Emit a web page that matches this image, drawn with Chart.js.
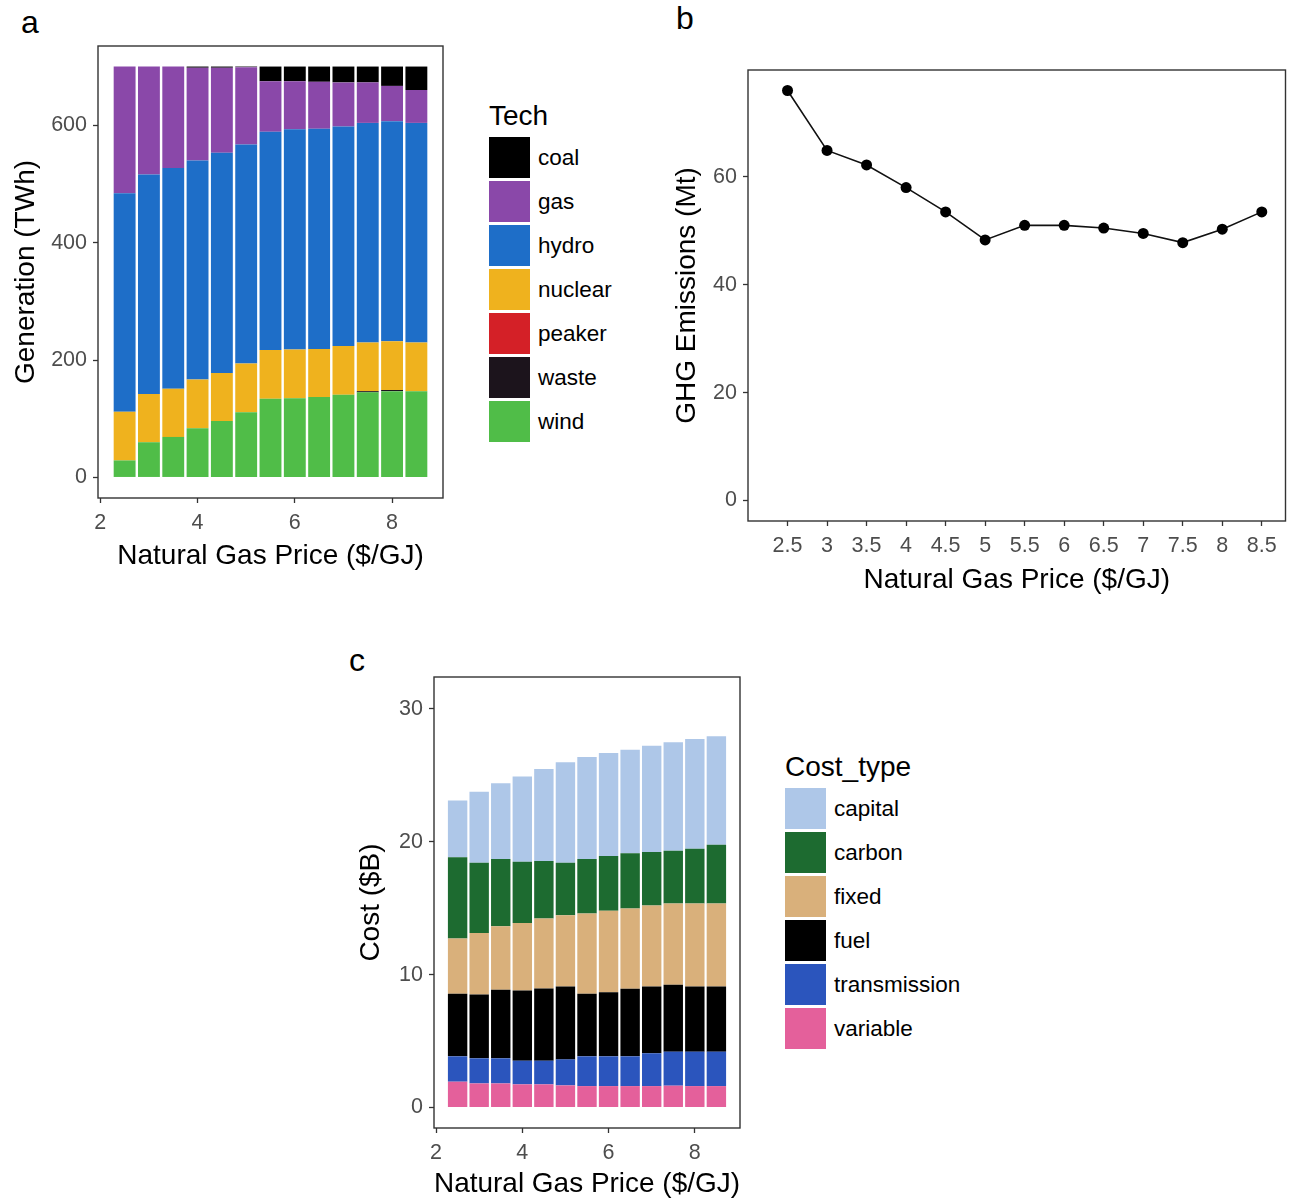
<!DOCTYPE html>
<html>
<head>
<meta charset="utf-8">
<script src="https://cdn.jsdelivr.net/npm/chart.js@4.4.1/dist/chart.umd.min.js"></script>
<style>
    html, body { margin: 0; padding: 0; background: #fff; }
    body { position: relative; width: 1291px; height: 1201px; overflow: hidden; font-family: 'Liberation Sans', Arial, sans-serif; color: #000; }
    .panel { position: absolute; }
    .tag { position: absolute; font-size: 32px; line-height: 32px; }
    .legend-title { position: absolute; font-size: 28px; line-height: 28px; white-space: nowrap; }
    .legend-key { position: absolute; width: 41px; height: 41px; }
    .legend-label { position: absolute; font-size: 22.5px; line-height: 41px; height: 41px; white-space: nowrap; }
</style>
</head>
<body>
<div class="tag" style="left:21px;top:6px">a</div>
<div class="tag" style="left:676px;top:2px">b</div>
<div class="tag" style="left:349px;top:644px">c</div>

<canvas id="chartGen" class="panel" style="left:0;top:0" width="460" height="600"></canvas>
<canvas id="chartGhg" class="panel" style="left:640px;top:0" width="651" height="620"></canvas>
<canvas id="chartCost" class="panel" style="left:330px;top:630px" width="420" height="575"></canvas>

<div id="legendGen"></div>
<div id="legendCost"></div>

<script>
// Natural gas price scenarios ($/GJ)
const prices = [2.5, 3, 3.5, 4, 4.5, 5, 5.5, 6, 6.5, 7, 7.5, 8, 8.5];

// a - generation by technology (TWh)
const techNames = ['coal', 'gas', 'hydro', 'nuclear', 'peaker', 'waste', 'wind'];
const techColors = ['#000000', '#8a48a9', '#1e6ec8', '#efb21e', '#d42027', '#1c141c', '#50bd48'];
const coalGen    = [0, 0, 0, 2, 2, 1, 25, 25, 26, 27, 27, 33, 40];
const gasGen     = [216, 184, 173, 158, 145, 132, 86, 82, 80, 75, 69, 60, 56];
const hydroGen   = [372, 374, 376, 373, 375, 373, 372, 375, 375, 374, 374, 375, 374];
const nuclearGen = [83, 82, 82, 83, 82, 83, 83, 83, 82, 83, 83, 83, 83];
const peakerGen  = [0, 0, 0, 0, 0, 0, 0, 0, 0, 0, 0, 0, 0];
const wasteGen   = [0, 0, 0, 0, 0, 0, 0, 0, 0, 0, 2, 2, 0];
const windGen    = [29, 60, 69, 84, 96, 111, 134, 135, 137, 141, 145, 147, 147];
const genTicksX = [2, 4, 6, 8];
const genTicksY = [0, 200, 400, 600];

// b - GHG emissions (Mt)
const ghg = [76.0, 64.9, 62.2, 58.0, 53.5, 48.3, 51.0, 51.0, 50.5, 49.5, 47.8, 50.3, 53.5];
const ghgTicksX = prices;
const ghgTicksY = [0, 20, 40, 60];

// c - system cost by type ($B)
const costNames = ['capital', 'carbon', 'fixed', 'fuel', 'transmission', 'variable'];
const costColors = ['#aec7e8', '#1d6b30', '#d9b07b', '#000000', '#2b55bd', '#e4609b'];
const capitalCost      = [4.27, 5.34, 5.71, 6.42, 6.92, 7.56, 7.68, 7.75, 7.80, 8.00, 8.16, 8.26, 8.16];
const carbonCost       = [6.12, 5.28, 5.06, 4.61, 4.33, 3.95, 4.10, 4.13, 4.15, 4.03, 3.98, 4.13, 4.43];
const fixedCost        = [4.15, 4.63, 4.78, 5.08, 5.26, 5.36, 6.04, 6.12, 6.04, 6.09, 6.11, 6.24, 6.24];
const fuelCost         = [4.71, 4.81, 5.16, 5.29, 5.44, 5.49, 4.71, 4.83, 5.09, 5.03, 5.04, 4.91, 4.91];
const transmissionCost = [1.91, 1.89, 1.89, 1.78, 1.78, 1.96, 2.24, 2.24, 2.24, 2.47, 2.56, 2.59, 2.59];
const variableCost     = [1.94, 1.81, 1.81, 1.74, 1.74, 1.66, 1.61, 1.61, 1.61, 1.61, 1.64, 1.61, 1.61];
const costTicksX = [2, 4, 6, 8];
const costTicksY = [0, 10, 20, 30];

const FONT = "'Liberation Sans', Arial, sans-serif";
Chart.defaults.font.family = FONT;

// ggplot-like panel border around the plotting area
const panelBorder = {
    id: 'panelBorder',
    afterDraw(chart) {
        const { ctx, chartArea: a } = chart;
        ctx.save();
        ctx.strokeStyle = '#333';
        ctx.lineWidth = 1.4;
        ctx.strokeRect(a.left, a.top, a.right - a.left, a.bottom - a.top);
        ctx.restore();
    }
};

const toPoints = vals => vals.map((v, i) => ({ x: prices[i], y: v }));

function axis(cfg) {
    const horizontal = cfg.pos === 'bottom';
    return {
        type: 'linear',
        position: cfg.pos,
        min: cfg.min, max: cfg.max,
        offset: false,
        stacked: cfg.stacked,
        afterFit: s => { if (horizontal) s.height = cfg.size; else s.width = cfg.size; },
        afterBuildTicks: s => { s.ticks = cfg.ticks.map(v => ({ value: v })); },
        border: { display: false },
        grid: { display: true, offset: false, drawOnChartArea: false, drawTicks: true, tickLength: 5, tickWidth: 1.3, tickColor: '#333' },
        ticks: { color: '#4d4d4d', font: { size: 21.5 }, padding: horizontal ? 7 : 6, autoSkip: false, maxRotation: 0, callback: v => String(v) },
        title: { display: true, text: cfg.title, color: '#000', font: { size: 28 }, padding: horizontal ? { top: 0, bottom: cfg.tpad } : { top: cfg.tpad, bottom: 0 } }
    };
}

const baseOptions = {
    responsive: false,
    animation: false,
    plugins: { legend: { display: false }, tooltip: { enabled: false } }
};

// names listed top-to-bottom in the legend; stacks are built bottom-up
function stackedSets(names, colors, series) {
    return names.map((n, i) => ({
        label: n, data: toPoints(series[i]), backgroundColor: colors[i],
        borderWidth: 0, stack: 's', barPercentage: 0.9, categoryPercentage: 1.0
    })).reverse();
}

function buildLegend(el, title, names, colors, left, top) {
    let html = `<div class="legend-title" style="left:${left}px;top:${top - 35}px">${title}</div>`;
    names.forEach((n, i) => {
        const y = top + i * 44;
        html += `<div class="legend-key" style="left:${left}px;top:${y}px;background:${colors[i]}"></div>`;
        html += `<div class="legend-label" style="left:${left + 49}px;top:${y}px">${n}</div>`;
    });
    el.innerHTML = html;
}

// a
new Chart(document.getElementById('chartGen'), {
    type: 'bar',
    data: { datasets: stackedSets(techNames, techColors, [coalGen, gasGen, hydroGen, nuclearGen, peakerGen, wasteGen, windGen]) },
    options: {
        ...baseOptions,
        layout: { padding: { left: 0, top: 46, right: 17, bottom: 0 } },
        scales: {
            x: axis({ pos: 'bottom', min: 1.9525, max: 9.0475, ticks: genTicksX, size: 102, title: 'Natural Gas Price ($/GJ)', tpad: 27.2 }),
            y: axis({ pos: 'left', min: -35, max: 735, ticks: genTicksY, size: 98, title: 'Generation (TWh)', tpad: 9.2, stacked: true })
        }
    },
    plugins: [panelBorder]
});
buildLegend(document.getElementById('legendGen'), 'Tech', techNames, techColors, 489, 137);

// b
new Chart(document.getElementById('chartGhg'), {
    type: 'line',
    data: {
        datasets: [{
            label: 'GHG', data: toPoints(ghg),
            borderColor: '#111', borderWidth: 1.6,
            pointRadius: 5.5, pointBackgroundColor: '#000', pointBorderWidth: 0,
            tension: 0
        }]
    },
    options: {
        ...baseOptions,
        layout: { padding: { left: 0, top: 70, right: 3, bottom: 0 } },
        scales: {
            x: axis({ pos: 'bottom', min: 2.0, max: 8.8, ticks: ghgTicksX, size: 99, title: 'Natural Gas Price ($/GJ)', tpad: 23.2 }),
            y: axis({ pos: 'left', min: -3.8, max: 79.8, ticks: ghgTicksY, size: 108, title: 'GHG Emissions (Mt)', tpad: 30.2 })
        }
    },
    plugins: [panelBorder]
});

// c
new Chart(document.getElementById('chartCost'), {
    type: 'bar',
    data: { datasets: stackedSets(costNames, costColors, [capitalCost, carbonCost, fixedCost, fuelCost, transmissionCost, variableCost]) },
    options: {
        ...baseOptions,
        layout: { padding: { left: 0, top: 47, right: 10, bottom: 0 } },
        scales: {
            x: axis({ pos: 'bottom', min: 1.9525, max: 9.0475, ticks: costTicksX, size: 77, title: 'Natural Gas Price ($/GJ)', tpad: 4.2 }),
            y: axis({ pos: 'left', min: -1.545, max: 32.4, ticks: costTicksY, size: 104, title: 'Cost ($B)', tpad: 24.2, stacked: true })
        }
    },
    plugins: [panelBorder]
});
buildLegend(document.getElementById('legendCost'), 'Cost_type', costNames, costColors, 785, 788);
</script>
</body>
</html>
